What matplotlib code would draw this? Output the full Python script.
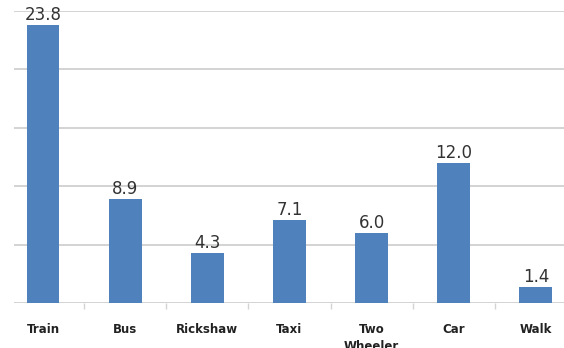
import matplotlib.pyplot as plt

# Mode share of daily trips (%)
modes = ['Train', 'Bus', 'Rickshaw', 'Taxi', 'Two\nWheeler', 'Car', 'Walk']
share = [23.8, 8.9, 4.3, 7.1, 6.0, 12.0, 1.4]

bar_color = '#4F81BD'
grid_color = '#d3d3d3'

fig = plt.figure(figsize=(5.64, 3.48), dpi=100)
ax = fig.add_axes([2 / 564, 45 / 348, 575 / 564, 292 / 348])

x = list(range(len(modes)))
ax.bar(x, share, width=0.4, color=bar_color, zorder=3)

ax.set_xlim(-0.5, len(modes) - 0.5)
ax.set_ylim(0, 25)

# horizontal gridlines, starting a little in from the left edge
for y in range(0, 30, 5):
    ax.hlines(y, -0.354, len(modes) - 0.5, color=grid_color, lw=1.4, zorder=1)

for side in ax.spines.values():
    side.set_visible(False)

ax.set_yticks([])
ax.set_xticks(x)
ax.set_xticklabels(modes, fontsize=8.5, fontweight='bold', color='#222222',
                   linespacing=1.4)
ax.tick_params(axis='x', which='major', length=0, pad=14.5)
ax.set_xticks([i + 0.5 for i in x[:-1]], minor=True)
ax.tick_params(axis='x', which='minor', length=4, width=1, color=grid_color, direction='out')

for xi, v in zip(x, share):
    ax.text(xi, v + 0.08, f'{v:.1f}', ha='center', va='bottom', fontsize=12, color='#333333', zorder=4)

plt.savefig('out.png', dpi=100)
plt.close()
